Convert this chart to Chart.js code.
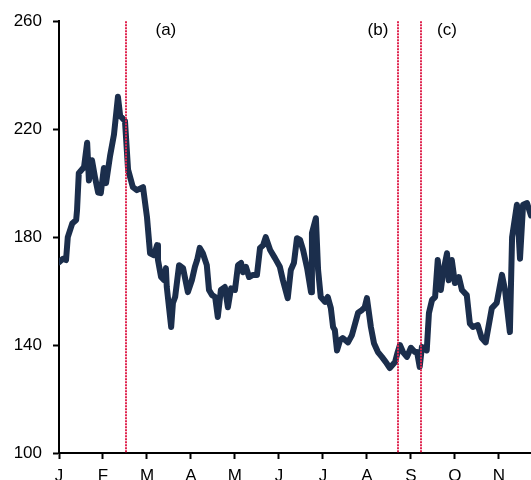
<!DOCTYPE html>
<html>
<head>
<meta charset="utf-8">
<script src="https://cdn.jsdelivr.net/npm/chart.js@4/dist/chart.umd.min.js"></script>
<style>
  html, body { margin: 0; padding: 0; background: #ffffff; }
  #wrap { width: 531px; height: 480px; position: relative; }
</style>
</head>
<body>
<div id="wrap"><canvas id="chart"></canvas></div>
<script>
// Month tick labels (x position 0 = start of January)
const monthLabels = ['J', 'F', 'M', 'A', 'M', 'J', 'J', 'A', 'S', 'O', 'N'];

// Position of each observation, in months from the start of January
const monthPos = [
  0.00, 0.09, 0.16, 0.20, 0.30, 0.39, 0.41, 0.45, 0.57, 0.64, 0.68, 0.75, 0.82, 0.89, 0.95,
  1.02, 1.07, 1.16, 1.25, 1.34, 1.39, 1.50, 1.57, 1.68, 1.77, 1.91,
  2.00, 2.07, 2.16, 2.23, 2.25, 2.32, 2.39, 2.43, 2.45, 2.55, 2.59, 2.64, 2.73, 2.82, 2.93,
  3.02, 3.09, 3.14, 3.20, 3.27, 3.36, 3.41, 3.48, 3.55, 3.61, 3.68, 3.77, 3.84, 3.91,
  4.00, 4.07, 4.14, 4.18, 4.25, 4.32, 4.41, 4.50, 4.57, 4.64, 4.70, 4.80, 4.91,
  5.02, 5.09, 5.20, 5.27, 5.34, 5.41, 5.48, 5.55, 5.64, 5.73, 5.75, 5.84, 5.89, 5.95,
  6.05, 6.11, 6.18, 6.23, 6.27, 6.32, 6.39, 6.45, 6.57, 6.66, 6.80, 6.89, 6.95,
  7.00, 7.09, 7.16, 7.25, 7.34, 7.43, 7.52, 7.64, 7.70, 7.75, 7.82, 7.91,
  8.00, 8.09, 8.14, 8.20, 8.25, 8.36, 8.41, 8.48, 8.55, 8.61, 8.68, 8.73, 8.82, 8.86, 8.93,
  9.00, 9.09, 9.16, 9.27, 9.34, 9.41, 9.52, 9.61, 9.70, 9.84, 9.95,
  10.07, 10.14, 10.25, 10.30, 10.41, 10.48, 10.55, 10.64, 10.73
];

// Index level
const indexValues = [
  170.7, 172.0, 171.5, 180.0, 185.0, 186.3, 190.0, 203.7, 206.0, 215.0, 201.0, 208.5, 202.0, 196.5, 196.3,
  205.6, 200.0, 210.0, 218.0, 232.0, 225.0, 223.0, 205.0, 198.5, 197.4, 198.5,
  187.4, 174.0, 173.3, 177.0, 171.5, 165.2, 164.0, 168.5, 161.5, 146.7, 155.6, 157.8, 169.6, 168.5, 159.6,
  164.0, 169.0, 171.5, 176.0, 174.0, 169.6, 160.4, 158.5, 157.8, 150.4, 160.4, 161.5, 154.0, 161.0,
  160.4, 169.6, 170.4, 167.0, 169.0, 165.2, 166.0, 166.0, 176.0, 177.0, 180.0, 175.2, 172.2,
  169.0, 164.0, 157.4, 167.8, 170.4, 179.6, 179.0, 175.2, 168.5, 159.6, 181.5, 187.0, 167.8, 157.8,
  156.0, 157.8, 153.7, 146.7, 145.6, 138.0, 141.8, 142.6, 141.0, 143.7, 152.0, 153.0, 154.0,
  157.4, 146.7, 140.7, 137.4, 135.6, 133.7, 131.5, 133.7, 137.4, 140.0, 137.4, 135.6,
  139.0, 137.4, 137.4, 131.9, 139.3, 138.0, 151.9, 156.7, 157.8, 171.5, 160.4, 166.7, 174.0, 164.0, 171.5,
  163.0, 165.2, 160.4, 158.5, 148.0, 146.7, 147.4, 142.6, 141.0, 153.7, 155.6,
  166.0, 160.4, 144.8, 180.0, 192.0, 172.0, 192.0, 192.6, 188.0
];

// Event markers: position (months) and label
const eventPos = [1.53, 7.70, 8.23];
const eventLabelPos = [2.43, 7.25, 8.82];
const eventLabels = ['(a)', '(b)', '(c)'];

const yTicks = [100, 140, 180, 220, 260];

const FONT = { family: 'Liberation Sans, Arial, sans-serif', size: 17 };

const points = monthPos.map((m, i) => ({ x: m, y: indexValues[i] }));

const eventLines = {
  id: 'eventLines',
  afterDatasetsDraw(chart) {
    const { ctx, chartArea, scales } = chart;
    ctx.save();
    ctx.strokeStyle = '#e0254f';
    ctx.lineWidth = 2;
    ctx.setLineDash([2, 1]);
    eventPos.forEach(p => {
      const x = Math.round(scales.x.getPixelForValue(p));
      ctx.beginPath();
      ctx.moveTo(x, chartArea.top);
      ctx.lineTo(x, chartArea.bottom);
      ctx.stroke();
    });
    ctx.setLineDash([]);
    ctx.fillStyle = '#000000';
    ctx.font = FONT.size + 'px ' + FONT.family;
    ctx.textAlign = 'center';
    ctx.textBaseline = 'middle';
    eventLabels.forEach((t, i) => {
      const x = scales.x.getPixelForValue(eventLabelPos[i]);
      ctx.fillText(t, x, chartArea.top + 9);
    });
    ctx.restore();
  }
};

new Chart(document.getElementById('chart'), {
  type: 'line',
  data: {
    datasets: [{
      data: points,
      borderColor: '#1b2e4c',
      borderWidth: 6,
      borderJoinStyle: 'round',
      borderCapStyle: 'round',
      pointRadius: 0,
      tension: 0,
      fill: false
    }]
  },
  options: {
    responsive: true,
    maintainAspectRatio: false,
    animation: false,
    layout: { padding: { top: 21, left: 0, right: 0, bottom: 0 } },
    plugins: {
      legend: { display: false },
      tooltip: { enabled: false }
    },
    scales: {
      x: {
        type: 'linear',
        min: 0,
        max: 10.73,
        afterFit: scale => { scale.height = 27; },
        border: { color: '#000000', width: 2 },
        grid: { drawOnChartArea: false, color: '#000000', tickLength: 6, tickWidth: 2 },
        ticks: {
          stepSize: 1,
          includeBounds: false,
          autoSkip: false,
          maxRotation: 0,
          padding: 7,
          color: '#000000',
          font: FONT,
          callback: v => Number.isInteger(v) ? (monthLabels[v] || '') : ''
        }
      },
      y: {
        min: 100,
        max: 260,
        afterFit: scale => { scale.width = 59; },
        afterBuildTicks: scale => { scale.ticks = yTicks.map(v => ({ value: v })); },
        border: { color: '#000000', width: 2 },
        grid: { drawOnChartArea: false, color: '#000000', tickLength: 6, tickWidth: 2 },
        ticks: {
          padding: 11,
          color: '#000000',
          font: FONT
        }
      }
    }
  },
  plugins: [eventLines]
});
</script>
</body>
</html>
